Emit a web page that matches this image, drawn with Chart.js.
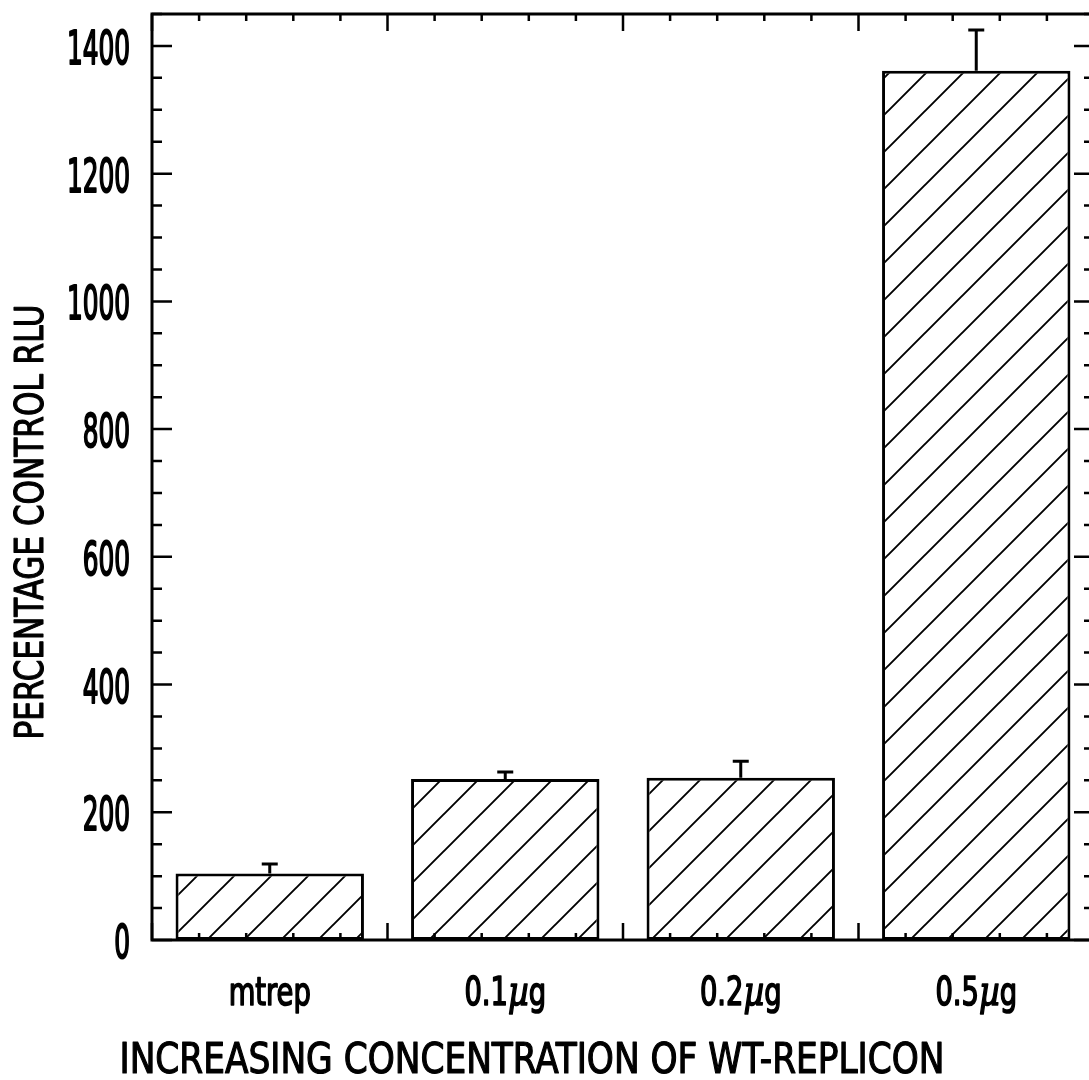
<!DOCTYPE html>
<html>
<head>
<meta charset="utf-8">
<script src="https://cdn.jsdelivr.net/npm/chart.js@4.4.1/dist/chart.umd.min.js"></script>
<style>
    html, body { margin: 0; padding: 0; background: #fff; overflow: hidden; }
    #wrap { width: 1089px; height: 1080px; overflow: hidden; position: relative; }
    #box { width: 1100px; height: 1080px; position: absolute; left: 0; top: 0; }
</style>
</head>
<body>
<div id="wrap"><div id="box"><canvas id="barChart"></canvas></div></div>
<script>
// values
const categories = ["mtrep", "0.1\u00b5g", "0.2\u00b5g", "0.5\u00b5g"];
const rluValues = [104, 252, 254, 1361];
const rluErrors = [15, 11, 26, 64];
const yTicks = [0, 200, 400, 600, 800, 1000, 1200, 1400];
const yTitle = "PERCENTAGE CONTROL RLU";
const xTitle = "INCREASING CONCENTRATION OF WT-REPLICON";

const FONT = "'DejaVu Sans Condensed', 'Liberation Sans', sans-serif";

function hatchPattern() {
    const size = 37;
    const c = document.createElement('canvas');
    c.width = size;
    c.height = size;
    const g = c.getContext('2d');
    g.fillStyle = '#fff';
    g.fillRect(0, 0, size, size);
    g.strokeStyle = '#000';
    g.lineWidth = 1.9;
    g.beginPath();
    g.moveTo(-2, size + 2);
    g.lineTo(size + 2, -2);
    g.moveTo(-2, 2);
    g.lineTo(2, -2);
    g.moveTo(size - 2, size + 2);
    g.lineTo(size + 2, size - 2);
    g.stroke();
    return g.createPattern(c, 'repeat');
}

// squeezed text, the original lettering is a narrow, medium weight face
function narrowText(ctx, text, x, y, sx, weight) {
    ctx.save();
    ctx.translate(x, y);
    ctx.scale(sx, 1);
    ctx.fillText(text, 0, 0);
    if (weight) {
        ctx.lineWidth = weight;
        ctx.strokeText(text, 0, 0);
    }
    ctx.restore();
}

// x label with an italic mu in the middle
function drawCategoryLabel(ctx, label, cx, baseY, sx) {
    const parts = label.split('\u00b5');
    const plain = '39px ' + FONT;
    const greek = 'italic 41px "DejaVu Serif", serif';
    const pieces = parts.length === 2
        ? [[parts[0], plain], ['\u00b5', greek], [parts[1], plain]]
        : [[label, plain]];
    let total = 0;
    pieces.forEach(p => { ctx.font = p[1]; total += ctx.measureText(p[0]).width * sx; });
    let x = cx - total / 2;
    ctx.textAlign = 'left';
    pieces.forEach(p => {
        ctx.font = p[1];
        narrowText(ctx, p[0], x, baseY, sx, 1.6);
        x += ctx.measureText(p[0]).width * sx;
    });
}

// frame, inward ticks, error bars, labels and titles
const figurePlugin = {
    id: 'figure',
    afterDatasetsDraw(chart) {
        const ctx = chart.ctx;
        const area = chart.chartArea;
        const x = chart.scales.x;
        const y = chart.scales.y;
        ctx.save();
        ctx.strokeStyle = '#000';
        ctx.lineCap = 'butt';

        // error bars (upper only)
        ctx.lineWidth = 3;
        rluValues.forEach((v, i) => {
            const px = x.getPixelForValue(i);
            const top = y.getPixelForValue(v);
            const end = y.getPixelForValue(v + rluErrors[i]);
            ctx.beginPath();
            ctx.moveTo(px, top);
            ctx.lineTo(px, end);
            ctx.moveTo(px - 8, end);
            ctx.lineTo(px + 8, end);
            ctx.stroke();
        });

        // frame
        ctx.lineWidth = 3;
        ctx.strokeRect(area.left, area.top, area.right - area.left, area.bottom - area.top);

        // y ticks, every 50 minor and every 200 major
        ctx.lineWidth = 2.5;
        for (let v = 0; v <= y.max; v += 50) {
            const py = y.getPixelForValue(v);
            const len = v % 200 === 0 ? 20 : 10;
            ctx.beginPath();
            ctx.moveTo(area.left, py);
            ctx.lineTo(area.left + len, py);
            ctx.moveTo(area.right, py);
            ctx.lineTo(area.right - len, py);
            ctx.stroke();
        }

        // x ticks, five per category
        for (let k = 0; k <= categories.length * 5; k++) {
            const px = x.getPixelForValue(-0.5 + k / 5);
            const len = k % 5 === 0 ? 17 : 7;
            ctx.beginPath();
            ctx.moveTo(px, area.bottom);
            ctx.lineTo(px, area.bottom - len);
            ctx.moveTo(px, area.top);
            ctx.lineTo(px, area.top + len);
            ctx.stroke();
        }

        ctx.fillStyle = '#000';
        ctx.lineJoin = 'round';
        ctx.textBaseline = 'alphabetic';

        // y tick labels
        ctx.font = '47px ' + FONT;
        ctx.textAlign = 'right';
        const ySx = 63 / ctx.measureText('1400').width;
        y.ticks.forEach(t => {
            const py = y.getPixelForValue(t.value);
            narrowText(ctx, String(t.value), 130, py + 18, ySx, 2);
        });

        // x tick labels
        categories.forEach((c, i) => {
            drawCategoryLabel(ctx, c, x.getPixelForValue(i), 1005, 0.78);
        });

        // titles
        ctx.textAlign = 'center';
        ctx.font = '43px ' + FONT;
        let w = ctx.measureText(xTitle).width;
        narrowText(ctx, xTitle, 532, 1073, 825 / w, 1.2);

        ctx.font = '39px ' + FONT;
        w = ctx.measureText(yTitle).width;
        ctx.save();
        ctx.translate(43, 522);
        ctx.rotate(-Math.PI / 2);
        narrowText(ctx, yTitle, 0, 0, 435 / w, 1.1);
        ctx.restore();

        ctx.restore();
    }
};

const chart = new Chart(document.getElementById('barChart').getContext('2d'), {
    type: 'bar',
    data: {
        labels: categories,
        datasets: [{
            label: 'RLU',
            data: rluValues,
            backgroundColor: hatchPattern(),
            borderColor: '#000',
            borderWidth: 3,
            borderSkipped: false,
            barPercentage: 0.8,
            categoryPercentage: 1.0
        }]
    },
    options: {
        responsive: true,
        maintainAspectRatio: false,
        animation: false,
        layout: {
            padding: { top: 14, right: 6, left: 0, bottom: 0 }
        },
        plugins: {
            legend: { display: false },
            tooltip: { enabled: false }
        },
        scales: {
            x: {
                offset: true,
                grid: { display: false, drawTicks: false },
                border: { display: false },
                ticks: { display: false },
                afterFit(scale) {
                    scale.height = 140;
                    scale.paddingLeft = 0;
                    scale.paddingRight = 0;
                }
            },
            y: {
                min: 0,
                max: 1450,
                grid: { display: false, drawTicks: false },
                border: { display: false },
                afterBuildTicks(scale) {
                    scale.ticks = yTicks.map(v => ({ value: v }));
                },
                ticks: { display: false },
                afterFit(scale) {
                    scale.width = 152;
                    scale.paddingTop = 0;
                    scale.paddingBottom = 0;
                }
            }
        }
    },
    plugins: [figurePlugin]
});
</script>
</body>
</html>
